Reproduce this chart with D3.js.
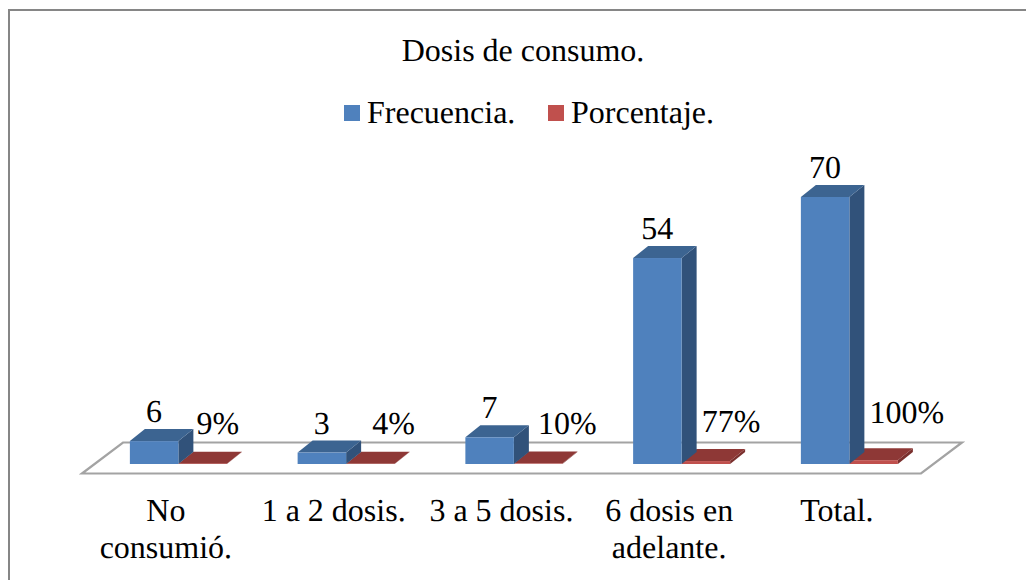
<!DOCTYPE html>
<html><head><meta charset="utf-8">
<script src="https://cdnjs.cloudflare.com/ajax/libs/d3/7.8.5/d3.min.js"></script>
<style>html,body{margin:0;padding:0;background:#fff}svg{display:block}text{font-family:"Liberation Serif",serif;fill:#000;text-rendering:geometricPrecision}</style>
</head><body><svg id="c" width="1026" height="580"></svg>
<script>
const categories=[["No","consumió."],["1 a 2 dosis."],["3 a 5 dosis."],["6 dosis en","adelante."],["Total."]];
const frecuencia=[6,3,7,54,70];
const porcentaje=[9,4,10,77,100];
const titulo="Dosis de consumo.";
const seriesNames=["Frecuencia.","Porcentaje."];

const svg=d3.select("#c");
const colors={blue:{front:"#4f81bd",top:"#3c6491",side:"#31527a"},red:{front:"#c0504d",top:"#8e3836",side:"#7a2f2d"}};
svg.append("rect").attr("x",9).attr("y",10).attr("width",1040).attr("height",600).attr("fill","#fff").attr("stroke","#868686").attr("stroke-width",2);

const x=d3.scaleBand().domain(d3.range(categories.length)).range([94.5,933.25]);
const barW=48.5,dx=15,dy=12;
const y=d3.scaleLinear().domain([0,70]).range([464,197]);

svg.append("path").attr("d","M82,473.5L123,442.5L962,442.5L921,473.5Z").attr("fill","none").attr("stroke","#a3a3a3").attr("stroke-width",2.2);

function bar(g,x0,yTop,c){
  const b=y(0),x1=x0+barW;
  g.append("path").attr("fill",c.side).attr("d",`M${x1},${yTop}L${x1+dx},${yTop-dy}L${x1+dx},${b-dy}L${x1},${b}Z`);
  g.append("path").attr("fill",c.top).attr("d",`M${x0},${yTop}L${x0+dx},${yTop-dy}L${x1+dx},${yTop-dy}L${x1},${yTop}Z`);
  g.append("rect").attr("x",x0).attr("y",yTop).attr("width",barW).attr("height",b-yTop).attr("fill",c.front);
}
const fs=32;
const pctNudge=[0,8,14,10,18];
categories.forEach((cat,i)=>{
  const g=svg.append("g");
  const x0=x(i)+x.bandwidth()/2-barW;
  bar(g,x0+barW,y(porcentaje[i]/100),colors.red);
  bar(g,x0,y(frecuencia[i]),colors.blue);
  g.append("text").attr("x",x0+24).attr("y",y(frecuencia[i])-19).attr("text-anchor","middle").attr("font-size",fs).text(frecuencia[i]);
  g.append("text").attr("x",x0+88+pctNudge[i]).attr("y",y(porcentaje[i]/100)-(i==4?37:29.5)).attr("text-anchor","middle").attr("font-size",fs).text(porcentaje[i]+"%");
  cat.forEach((ln,k)=>g.append("text").attr("x",x0+36).attr("y",521+k*37).attr("text-anchor","middle").attr("font-size",fs).text(ln));
});
svg.append("text").attr("x",523).attr("y",61).attr("text-anchor","middle").attr("font-size",fs).text(titulo);
const leg=[{n:seriesNames[0],x:344,c:colors.blue.front},{n:seriesNames[1],x:548,c:colors.red.front}];
leg.forEach(l=>{
  svg.append("rect").attr("x",l.x).attr("y",105).attr("width",16).attr("height",16).attr("fill",l.c);
  svg.append("text").attr("x",l.x+23).attr("y",123).attr("font-size",fs).text(l.n);
});
</script></body></html>
